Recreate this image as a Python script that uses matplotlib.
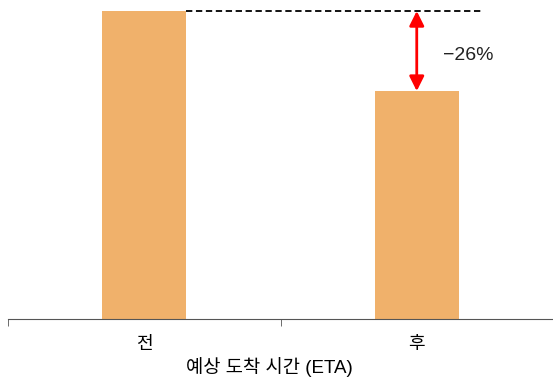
import matplotlib
matplotlib.use("Agg")
import matplotlib.pyplot as plt

plt.rcParams['font.family'] = ['Liberation Sans', 'Noto Sans CJK KR', 'DejaVu Sans']

categories = ['전', '후']
values = [100, 74]
change_label = '\u221226%'
xlabel = '예상 도착 시간 (ETA)'

bar_color = '#F0B16B'

fig = plt.figure(figsize=(5.53, 3.82), dpi=100)
ax = fig.add_axes([8 / 553, 1 - 319 / 382, 545 / 553, 319 / 382])

x = list(range(len(categories)))
ax.bar(x, values, width=0.31, color=bar_color)

ax.set_xlim(-0.5, 1.5)
ax.set_ylim(0, values[0] * 319 / 308)

# dashed reference line from top of first bar
ax.plot([0 + 0.155, 1.236], [values[0], values[0]], ls='--', color='black', lw=1.3, dashes=(3.5, 2))

# double arrow showing the drop
ax.annotate('', xy=(1, values[1]), xytext=(1, values[0]),
            arrowprops=dict(arrowstyle='<|-|>', color='red', lw=2,
                            mutation_scale=22, shrinkA=0, shrinkB=0))
ax.text(1.095, 85.5, change_label, fontsize=14,
        va='center', ha='left', color='#222222')

ax.set_xticks(x)
ax.set_xticklabels(categories, fontsize=13)
ax.set_xticks([-0.5, 0.5, 1.5], minor=True)
ax.tick_params(axis='x', which='major', length=0, pad=12)
ax.tick_params(axis='x', which='minor', length=5, color='#555555')
ax.set_xlabel(xlabel, fontsize=13.5, labelpad=4)
ax.xaxis.set_label_coords(0.48, -0.12)

ax.set_yticks([])
for s in ['left', 'right', 'top']:
    ax.spines[s].set_visible(False)
ax.spines['bottom'].set_color('#555555')

fig.savefig('out.png', dpi=100)
